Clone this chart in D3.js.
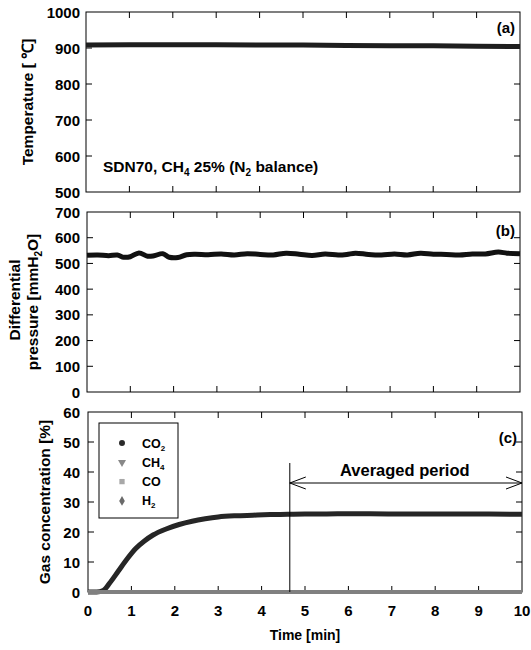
<!DOCTYPE html>
<html>
<head>
<meta charset="utf-8">
<script src="https://cdn.jsdelivr.net/npm/d3@7"></script>
<style>
  body { margin: 0; background: #fff; }
  svg text { font-family: "Liberation Sans", Arial, sans-serif; font-weight: bold; }
</style>
</head>
<body>
<div id="chart"></div>
<script>
// time axis (min), shared by all three panels
var timeTicks = [0, 1, 2, 3, 4, 5, 6, 7, 8, 9, 10];

// (a) furnace temperature [℃]
var tempTime = [0, 1, 2, 3, 4, 5, 6, 7, 8, 9, 10];
var tempVals = [908, 909, 909, 909, 908, 908, 907, 906, 906, 905, 904];

// (b) differential pressure [mmH2O]
var presTime = [0, 0.25, 0.5, 0.7, 0.85, 1.0, 1.2, 1.4, 1.55, 1.75, 1.9, 2.1, 2.3, 2.5, 2.8, 3.1, 3.4, 3.7, 4.0, 4.3, 4.6, 4.9, 5.2, 5.5, 5.8, 6.0, 6.2, 6.5, 6.8, 7.1, 7.4, 7.7, 8.0, 8.3, 8.6, 8.9, 9.2, 9.5, 9.7, 10];
var presVals = [532, 533, 530, 533, 524, 526, 541, 528, 530, 538, 524, 523, 534, 536, 534, 537, 533, 538, 535, 533, 540, 536, 531, 537, 533, 535, 540, 535, 533, 537, 533, 540, 536, 535, 533, 537, 537, 544, 540, 538];

// (c) gas concentration [%]
var gasTime = [0, 0.2, 0.35, 0.5, 0.7, 0.9, 1.1, 1.3, 1.5, 1.8, 2.1, 2.4, 2.7, 3.0, 3.4, 3.8, 4.2, 4.6, 5.0, 5.5, 6.0, 7.0, 8.0, 9.0, 10];
var co2Vals = [0, 0, 0.5, 3, 7, 11, 14.5, 17, 19, 21, 22.5, 23.6, 24.4, 25, 25.4, 25.6, 25.8, 25.9, 26, 26, 26.1, 26, 26, 26, 25.9];
var ch4Vals = [0, 0, 0, 0, 0, 0, 0, 0, 0, 0, 0, 0, 0, 0, 0, 0, 0, 0, 0, 0, 0, 0, 0, 0, 0];
var coVals  = [0, 0, 0, 0, 0, 0, 0, 0, 0, 0, 0, 0, 0, 0, 0, 0, 0, 0, 0, 0, 0, 0, 0, 0, 0];
var h2Vals  = [0, 0, 0, 0, 0, 0, 0, 0, 0, 0, 0, 0, 0, 0, 0, 0, 0, 0, 0, 0, 0, 0, 0, 0, 0];
var avgStart = 4.65;

var W = 531, H = 650;
var svg = d3.select("#chart").append("svg").attr("width", W).attr("height", H);

var panels = [
  { top: 12, bottom: 192, left: 86, right: 520, domain: [500, 1000], ticks: d3.range(500, 1001, 100), label: "(a)", labelY: 33 },
  { top: 212, bottom: 392, left: 87, right: 520, domain: [0, 700], ticks: d3.range(0, 701, 100), label: "(b)", labelY: 236 },
  { top: 412, bottom: 592, left: 88, right: 522, domain: [0, 60], ticks: d3.range(0, 61, 10), label: "(c)", labelY: 443 }
];

function drawFrame(p) {
  var x = d3.scaleLinear().domain([0, 10]).range([p.left, p.right]);
  var y = d3.scaleLinear().domain(p.domain).range([p.bottom, p.top]);
  var g = svg.append("g");
  g.append("rect").attr("x", p.left).attr("y", p.top)
    .attr("width", p.right - p.left).attr("height", p.bottom - p.top)
    .attr("fill", "none").attr("stroke", "#000").attr("stroke-width", 1);
  var tk = 6;
  timeTicks.forEach(function (t) {
    if (t === 0 || t === 10) return;
    g.append("line").attr("x1", x(t)).attr("x2", x(t)).attr("y1", p.top).attr("y2", p.top + tk).attr("stroke", "#000");
    g.append("line").attr("x1", x(t)).attr("x2", x(t)).attr("y1", p.bottom).attr("y2", p.bottom - tk).attr("stroke", "#000");
  });
  p.ticks.forEach(function (v) {
    if (v !== p.domain[0] && v !== p.domain[1]) {
      g.append("line").attr("x1", p.left).attr("x2", p.left + tk).attr("y1", y(v)).attr("y2", y(v)).attr("stroke", "#000");
      g.append("line").attr("x1", p.right).attr("x2", p.right - tk).attr("y1", y(v)).attr("y2", y(v)).attr("stroke", "#000");
    }
    g.append("text").attr("x", 80).attr("y", y(v) + 5.5).attr("text-anchor", "end")
      .attr("font-size", "15px").attr("fill", "#000").text(v);
  });
  g.append("text").attr("x", p.right - 5).attr("y", p.labelY).attr("text-anchor", "end")
    .attr("font-size", "15px").attr("fill", "#000").text(p.label);
  return { x: x, y: y };
}

// panel (a)
var A = drawFrame(panels[0]);
var lineA = d3.line().x(function (d, i) { return A.x(tempTime[i]); }).y(function (d) { return A.y(d); });
svg.append("path").datum(tempVals).attr("d", lineA).attr("fill", "none")
  .attr("stroke", "#1e1e1e").attr("stroke-width", 5);
var ann = svg.append("text").attr("x", 103).attr("y", 172).attr("font-size", "15.5px").attr("fill", "#000");
ann.append("tspan").text("SDN70, CH");
ann.append("tspan").attr("font-size", "10px").attr("dy", 4).text("4");
ann.append("tspan").attr("dy", -4).text(" 25% (N");
ann.append("tspan").attr("font-size", "10px").attr("dy", 4).text("2");
ann.append("tspan").attr("dy", -4).text(" balance)");
svg.append("text").attr("transform", "translate(33,102) rotate(-90)").attr("text-anchor", "middle")
  .attr("font-size", "15.5px").attr("fill", "#000").text("Temperature [ ℃]");

// panel (b)
var B = drawFrame(panels[1]);
var lineB = d3.line().curve(d3.curveCatmullRom)
  .x(function (d, i) { return B.x(presTime[i]); }).y(function (d) { return B.y(d); });
svg.append("path").datum(presVals).attr("d", lineB).attr("fill", "none")
  .attr("stroke", "#111").attr("stroke-width", 5);
svg.append("text").attr("transform", "translate(20,300) rotate(-90)").attr("text-anchor", "middle")
  .attr("font-size", "15.5px").attr("fill", "#000").text("Differential");
var tb2 = svg.append("text").attr("transform", "translate(38,302) rotate(-90)").attr("text-anchor", "middle")
  .attr("font-size", "15.5px").attr("fill", "#000");
tb2.append("tspan").text("pressure [mmH");
tb2.append("tspan").attr("font-size", "10px").attr("dy", 4).text("2");
tb2.append("tspan").attr("dy", -4).text("O]");

// panel (c)
var C = drawFrame(panels[2]);
var gasSeries = [
  { name: "H2", vals: h2Vals, color: "#6a6a6a" },
  { name: "CO", vals: coVals, color: "#a8a8a8" },
  { name: "CO2", vals: co2Vals, color: "#262626" },
  { name: "CH4", vals: ch4Vals, color: "#808080" }
];
gasSeries.forEach(function (s) {
  var ln = d3.line().curve(d3.curveMonotoneX)
    .x(function (d, i) { return C.x(gasTime[i]); }).y(function (d) { return C.y(d); });
  svg.append("path").datum(s.vals).attr("d", ln).attr("fill", "none")
    .attr("stroke", s.color).attr("stroke-width", s.name === "CO2" ? 5 : 4);
});

// averaged period marker
var yArrow = 483;
svg.append("line").attr("x1", C.x(avgStart)).attr("x2", C.x(avgStart))
  .attr("y1", 463).attr("y2", C.y(0)).attr("stroke", "#000").attr("stroke-width", 1);
svg.append("line").attr("x1", C.x(avgStart)).attr("x2", C.x(10))
  .attr("y1", yArrow).attr("y2", yArrow).attr("stroke", "#000").attr("stroke-width", 1);
[[C.x(avgStart), 1], [C.x(10), -1]].forEach(function (a) {
  svg.append("path")
    .attr("d", "M" + (a[0] + a[1] * 16) + "," + (yArrow - 6) + "L" + a[0] + "," + yArrow + "L" + (a[0] + a[1] * 16) + "," + (yArrow + 6))
    .attr("fill", "none").attr("stroke", "#000").attr("stroke-width", 1);
});
svg.append("text").attr("x", C.x(7.3)).attr("y", 476).attr("text-anchor", "middle")
  .attr("font-size", "16.5px").attr("fill", "#000").text("Averaged period");

// legend
var lg = svg.append("g");
lg.append("rect").attr("x", 99).attr("y", 423).attr("width", 79).attr("height", 95)
  .attr("fill", "#fff").attr("stroke", "#000").attr("stroke-width", 1);
var legendItems = [
  { sub: "2", base: "CO", color: "#2a2a2a", sym: d3.symbolCircle },
  { sub: "4", base: "CH", color: "#888", sym: d3.symbolTriangle },
  { sub: "", base: "CO", color: "#a8a8a8", sym: d3.symbolSquare },
  { sub: "2", base: "H", color: "#6a6a6a", sym: d3.symbolDiamond }
];
legendItems.forEach(function (it, i) {
  var yy = 443 + i * 19.3;
  var rot = it.sym === d3.symbolTriangle ? " rotate(180)" : "";
  lg.append("path").attr("d", d3.symbol().type(it.sym).size(28)())
    .attr("transform", "translate(122," + yy + ")" + rot).attr("fill", it.color);
  var t = lg.append("text").attr("x", 142).attr("y", yy + 4.5).attr("font-size", "12.5px").attr("fill", "#000");
  t.append("tspan").text(it.base);
  if (it.sub) t.append("tspan").attr("font-size", "8px").attr("dy", 3).text(it.sub);
});

// x tick labels and title
timeTicks.forEach(function (t) {
  svg.append("text").attr("x", C.x(t)).attr("y", 616).attr("text-anchor", "middle")
    .attr("font-size", "15px").attr("fill", "#000").text(t);
});
svg.append("text").attr("x", 305).attr("y", 640).attr("text-anchor", "middle")
  .attr("font-size", "14px").attr("fill", "#000").text("Time [min]");
svg.append("text").attr("transform", "translate(50,502) rotate(-90)").attr("text-anchor", "middle")
  .attr("font-size", "15.5px").attr("fill", "#000").text("Gas concentration [%]");
</script>
</body>
</html>
